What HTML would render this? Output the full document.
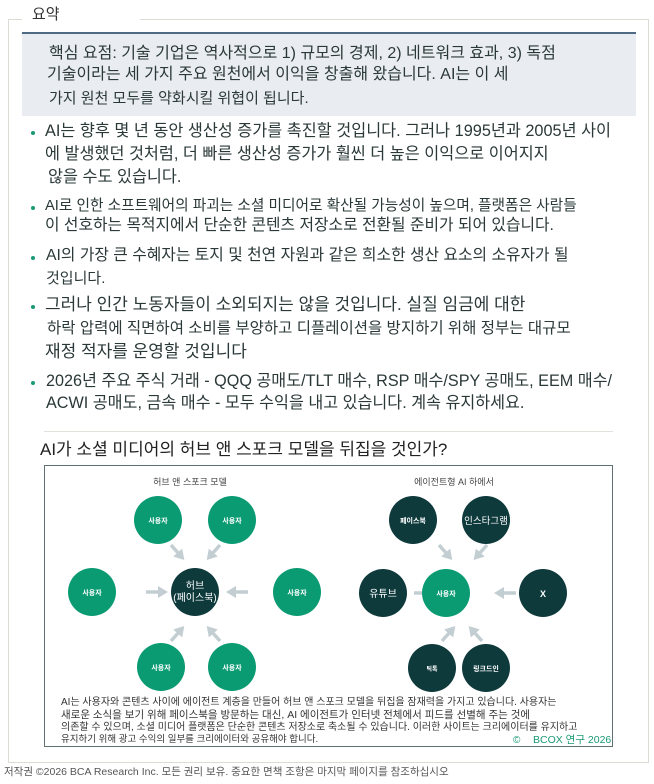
<!DOCTYPE html>
<html><head><meta charset="utf-8">
<style>
*{margin:0;padding:0;box-sizing:border-box}
body{width:654px;height:784px;background:#fff;position:relative;overflow:hidden;font-family:"Liberation Sans","Noto Sans CJK KR",sans-serif;color:#2b3838}
.t{position:absolute;white-space:nowrap;line-height:1}
.d{position:absolute;width:4px;height:4px;border-radius:50%;background:#1a9a74}
</style></head><body>
<div style="position:absolute;left:8px;top:19px;width:641px;height:744px;border:1.5px solid #dcdcd4"></div>
<div style="position:absolute;left:22px;top:8px;width:118px;height:14px;background:#fff"></div>
<div class="t" style="left:32px;top:7px;font-size:15px;color:#333">요약</div>
<div style="position:absolute;left:22px;top:32px;width:614px;height:84px;background:#e9edf1;border-top:2px solid #4d6b85"></div>
<div class="t" style="left:49px;top:46px;font-size:16px">핵심 요점: 기술 기업은 역사적으로 1) 규모의 경제, 2) 네트워크 효과, 3) 독점</div>
<div class="t" style="left:47px;top:67px;font-size:16px">기술이라는 세 가지 주요 원천에서 이익을 창출해 왔습니다. AI는 이 세</div>
<div class="t" style="left:49px;top:91px;font-size:15px">가지 원천 모두를 약화시킬 위협이 됩니다.</div>

<div class="d" style="left:31px;top:131px"></div>
<div class="t" style="left:45px;top:123px;font-size:16.3px">AI는 향후 몇 년 동안 생산성 증가를 촉진할 것입니다. 그러나 1995년과 2005년 사이</div>
<div class="t" style="left:45px;top:146px;font-size:16.3px">에 발생했던 것처럼, 더 빠른 생산성 증가가 훨씬 더 높은 이익으로 이어지지</div>
<div class="t" style="left:48px;top:169px;font-size:16.3px">않을 수도 있습니다.</div>

<div class="d" style="left:31px;top:206px"></div>
<div class="t" style="left:45px;top:199px;font-size:14.7px">AI로 인한 소프트웨어의 파괴는 소셜 미디어로 확산될 가능성이 높으며, 플랫폼은 사람들</div>
<div class="t" style="left:45px;top:218px;font-size:15.8px">이 선호하는 목적지에서 단순한 콘텐츠 저장소로 전환될 준비가 되어 있습니다.</div>

<div class="d" style="left:31px;top:256px"></div>
<div class="t" style="left:46px;top:248px;font-size:15.8px">AI의 가장 큰 수혜자는 토지 및 천연 자원과 같은 희소한 생산 요소의 소유자가 될</div>
<div class="t" style="left:46px;top:271px;font-size:15px">것입니다.</div>

<div class="d" style="left:31px;top:305px"></div>
<div class="t" style="left:45px;top:296px;font-size:17px">그러나 인간 노동자들이 소외되지는 않을 것입니다. 실질 임금에 대한</div>
<div class="t" style="left:47px;top:321px;font-size:15.5px">하락 압력에 직면하여 소비를 부양하고 디플레이션을 방지하기 위해 정부는 대규모</div>
<div class="t" style="left:45px;top:343px;font-size:17px">재정 적자를 운영할 것입니다</div>

<div class="d" style="left:31px;top:381px"></div>
<div class="t" style="left:46px;top:373px;font-size:16.2px">2026년 주요 주식 거래 - QQQ 공매도/TLT 매수, RSP 매수/SPY 공매도, EEM 매수/</div>
<div class="t" style="left:46px;top:395px;font-size:16.2px">ACWI 공매도, 금속 매수 - 모두 수익을 내고 있습니다. 계속 유지하세요.</div>

<div style="position:absolute;left:44px;top:431px;width:569px;height:1px;background:#e2e2dc"></div>
<div class="t" style="left:40px;top:441px;font-size:17px;color:#222">AI가 소셜 미디어의 허브 앤 스포크 모델을 뒤집을 것인가?</div>

<div style="position:absolute;left:44px;top:465px;width:569px;height:282px;border:1.5px solid #5f7070"></div>

<svg style="position:absolute;left:0;top:0" width="654" height="784">
<defs><marker id="a" markerWidth="10" markerHeight="12" refX="2" refY="6" orient="auto" markerUnits="userSpaceOnUse"><path d="M0,0 L10,6 L0,12Z" fill="#c3ced3"/></marker></defs>
<g stroke="#c3ced3" stroke-width="3.5" fill="none" marker-end="url(#a)">
<line x1="171" y1="545" x2="179" y2="554"/><line x1="220" y1="545" x2="212" y2="554"/>
<line x1="146" y1="592" x2="160" y2="592"/><line x1="248" y1="592" x2="234" y2="592"/>
<line x1="171" y1="641" x2="179" y2="632"/><line x1="220" y1="641" x2="212" y2="632"/>
<line x1="439" y1="545" x2="447" y2="554"/><line x1="487" y1="545" x2="479" y2="554"/>
<line x1="414" y1="593" x2="428" y2="593"/><line x1="516" y1="593" x2="502" y2="593"/>
<line x1="442" y1="641" x2="450" y2="632"/><line x1="482" y1="641" x2="474" y2="632"/>
</g>
<g font-family="Liberation Sans,Noto Sans CJK KR,sans-serif" text-anchor="middle">
<text x="190" y="485" font-size="9" fill="#444">허브 앤 스포크 모델</text>
<text x="454" y="485" font-size="9" fill="#444">에이전트형 AI 하에서</text>
<g fill="#0a9b73">
<circle cx="158" cy="520" r="24"/><circle cx="232" cy="520" r="24"/>
<circle cx="92" cy="592" r="24"/><circle cx="297" cy="592" r="24"/>
<circle cx="161" cy="667" r="24"/><circle cx="232" cy="667" r="24"/>
<circle cx="446" cy="593" r="24"/>
</g>
<g fill="#0e3a3c">
<circle cx="195" cy="592" r="24"/>
<circle cx="413" cy="520" r="24"/><circle cx="486" cy="520" r="24"/>
<circle cx="383" cy="593" r="24"/><circle cx="543" cy="593" r="24"/>
<circle cx="432" cy="668" r="24"/><circle cx="486" cy="668" r="24"/>
</g>
<g fill="#fff" font-size="7" font-weight="bold">
<text x="158" y="523">사용자</text><text x="232" y="523">사용자</text>
<text x="92" y="595">사용자</text><text x="297" y="595">사용자</text>
<text x="161" y="670">사용자</text><text x="232" y="670">사용자</text>
<text x="446" y="596">사용자</text>
<text x="413" y="523">페이스북</text>
<text x="486" y="524" font-size="9.5" font-weight="normal">인스타그램</text>
<text x="383" y="597" font-size="10" font-weight="normal">유튜브</text>
<text x="543" y="597" font-size="9">X</text>
<text x="432" y="671" font-size="6">틱톡</text>
<text x="486" y="671">링크드인</text>
<text x="195" y="589" font-size="10" font-weight="normal">허브</text>
<text x="195" y="601" font-size="10" font-weight="normal">(페이스북)</text>
</g>
</g>
</svg>

<div class="t" style="left:61px;top:698px;font-size:10px;color:#333">AI는 사용자와 콘텐츠 사이에 에이전트 계층을 만들어 허브 앤 스포크 모델을 뒤집을 잠재력을 가지고 있습니다. 사용자는</div>
<div class="t" style="left:61px;top:710px;font-size:10.5px;color:#333">새로운 소식을 보기 위해 페이스북을 방문하는 대신, AI 에이전트가 인터넷 전체에서 피드를 선별해 주는 것에</div>
<div class="t" style="left:61px;top:723px;font-size:10px;color:#333">의존할 수 있으며, 소셜 미디어 플랫폼은 단순한 콘텐츠 저장소로 축소될 수 있습니다. 이러한 사이트는 크리에이터를 유지하고</div>
<div class="t" style="left:61px;top:735px;font-size:9.5px;color:#333">유지하기 위해 광고 수익의 일부를 크리에이터와 공유해야 합니다.</div>
<div class="t" style="left:513px;top:736px;font-size:10px;color:#1a9a74">©</div>
<div class="t" style="left:533px;top:735px;font-size:10.5px;color:#1a9a74">BCOX 연구 2026</div>
<div class="t" style="left:4px;top:767px;font-size:10.5px;color:#555">저작권 ©2026 BCA Research Inc. 모든 권리 보유. 중요한 면책 조항은 마지막 페이지를 참조하십시오</div>
</body></html>
